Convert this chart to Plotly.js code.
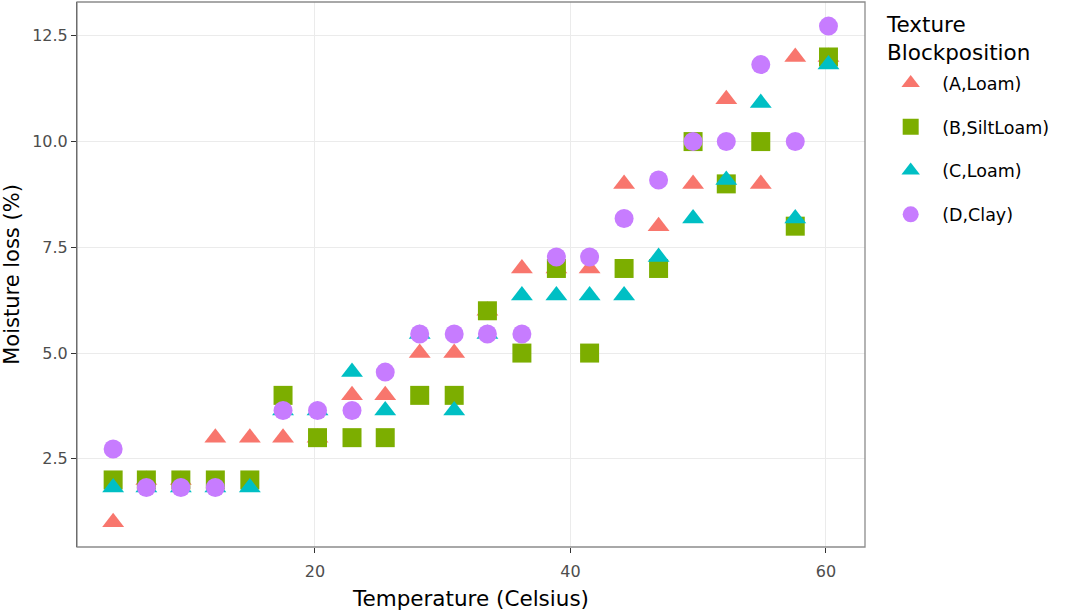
<!DOCTYPE html>
<html>
<head>
<meta charset="utf-8">
<script src="https://cdn.plot.ly/plotly-3.0.1.min.js"></script>
<style>html,body{margin:0;padding:0;background:#fff}#chart{width:1076px;height:612px}</style>
</head>
<body>
<div id="chart"></div>
<script>
// Temperature (Celsius)
const temperature = [4.2, 6.8, 9.5, 12.2, 14.9, 17.5, 20.2, 22.9, 25.5, 28.2, 30.9,
                     33.5, 36.2, 38.9, 41.5, 44.2, 46.9, 49.6, 52.2, 54.9, 57.6, 60.2];
// Moisture loss (%)
const lossA = [1.0, 2.0, 2.0, 3.0, 3.0, 3.0, 3.0, 4.0, 4.0, 5.0, 5.0,
               6.0, 7.0, 7.0, 7.0, 9.0, 8.0, 9.0, 11.0, 9.0, 12.0, 12.0];
const lossB = [2.0, 2.0, 2.0, 2.0, 2.0, 4.0, 3.0, 3.0, 3.0, 4.0, 4.0,
               6.0, 5.0, 7.0, 5.0, 7.0, 7.0, 10.0, 9.0, 10.0, 8.0, 12.0];
const lossC = [1.82, 1.82, 1.82, 1.82, 1.82, 3.64, 3.64, 4.55, 3.64, 5.45, 3.64,
               5.45, 6.36, 6.36, 6.36, 6.36, 7.27, 8.18, 9.09, 10.91, 8.18, 11.82];
const lossD = [2.73, 1.82, 1.82, 1.82, null, 3.64, 3.64, 3.64, 4.55, 5.45, 5.45,
               5.45, 5.45, 7.27, 7.27, 8.18, 9.09, 10.0, 10.0, 11.82, 10.0, 12.73];
const seriesNames = ['(A,Loam)', '(B,SiltLoam)', '(C,Loam)', '(D,Clay)'];
const seriesColors = ['#F8766D', '#7CAE00', '#00BFC4', '#C77CFF'];
const seriesSymbols = ['triangle-up', 'square', 'triangle-up', 'circle'];
const seriesSizes = [19, 19, 19, 19];
const seriesValues = [lossA, lossB, lossC, lossD];
const legendTitle = 'Texture<br>Blockposition';
const xTickVals = [20, 40, 60];
const yTickVals = [2.5, 5, 7.5, 10, 12.5];
const yTickText = ['2.5', '5.0', '7.5', '10.0', '12.5'];

const traces = seriesValues.map((vals, k) => ({
  type: 'scatter', mode: 'markers', x: temperature, y: vals,
  name: seriesNames[k], legendgroup: 'g' + k,
  marker: {color: seriesColors[k], symbol: seriesSymbols[k], size: seriesSizes[k], line: {width: 0}}
}));

const FONT = 'DejaVu Sans, Verdana, sans-serif';
const layout = {
  width: 1076, height: 612,
  margin: {l: 77, r: 211, t: 2, b: 65},
  paper_bgcolor: '#fff', plot_bgcolor: '#fff',
  font: {family: FONT, color: '#000'},
  showlegend: true,
  xaxis: {
    range: [1.37, 63.06], tickvals: xTickVals,
    showgrid: true, gridcolor: '#EBEBEB', gridwidth: 1, zeroline: false,
    ticks: 'outside', ticklen: 5, tickcolor: '#333', tickwidth: 1,
    ticklabelstandoff: 5,
    tickfont: {family: FONT, size: 16, color: '#4D4D4D'},
    showline: false,
    title: {text: 'Temperature (Celsius)', font: {family: FONT, size: 21.5, color: '#000'}, standoff: 10}
  },
  yaxis: {
    range: [0.415, 13.3], tickvals: yTickVals, ticktext: yTickText,
    showgrid: true, gridcolor: '#EBEBEB', gridwidth: 1, zeroline: false,
    ticks: 'outside', ticklen: 5, tickcolor: '#333', tickwidth: 1,
    tickfont: {family: FONT, size: 16, color: '#4D4D4D'},
    showline: true, linecolor: '#333', linewidth: 1,
    title: {text: 'Moisture loss (%)', font: {family: FONT, size: 21, color: '#000'}, standoff: 10}
  },
  shapes: [{type: 'rect', xref: 'paper', yref: 'paper', x0: 0, x1: 1, y0: 0, y1: 1,
            line: {color: '#8C8C8C', width: 1.3}, fillcolor: 'rgba(0,0,0,0)'}],
  annotations: [{
    text: legendTitle, xref: 'paper', yref: 'paper', x: 1.024, y: 0.985, xanchor: 'left', yanchor: 'top',
    align: 'left', showarrow: false, font: {family: FONT, size: 21.5, color: '#000'}
  }],
  legend: {
    x: 1.018, xanchor: 'left', y: 0.884, yanchor: 'top',
    font: {family: FONT, size: 17.5, color: '#000'},
    itemwidth: 53,
    tracegroupgap: 18, bgcolor: 'rgba(0,0,0,0)'
  }
};
Plotly.newPlot('chart', traces, layout, {displayModeBar: false, staticPlot: true});
</script>
</body>
</html>
